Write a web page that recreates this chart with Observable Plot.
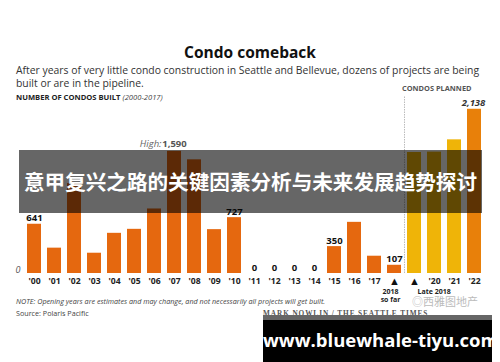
<!DOCTYPE html>
<html>
<head>
<meta charset="utf-8">
<script src="https://cdn.jsdelivr.net/npm/d3@7"></script>
<script src="https://cdn.jsdelivr.net/npm/@observablehq/plot@0.6"></script>
<style>
  html, body { margin: 0; padding: 0; background: #fff; }
  #wrap { position: relative; width: 500px; height: 362px; overflow: hidden; font-family: "Open Sans", "DejaVu Sans", sans-serif; }
  .abs { position: absolute; white-space: nowrap; }
  #chart { position: absolute; left: 0; top: 80px; }
</style>
</head>
<body>
<div id="wrap">
  <div class="abs" style="left:0;width:500px;top:41px;text-align:center;font-size:15.5px;font-weight:700;color:#111;">Condo comeback</div>
  <div class="abs" style="left:16px;top:64px;font-size:10.4px;line-height:12.5px;color:#333;">After years of very little condo construction in Seattle and Bellevue, dozens of projects are being<br>built or are in the pipeline.</div>
  <div class="abs" style="left:16px;top:92px;font-size:7.6px;font-weight:700;color:#222;">NUMBER OF CONDOS BUILT <span style="font-weight:400;font-style:italic;color:#444;">(2000-2017)</span></div>
  <div class="abs" style="left:402px;top:83px;font-size:7.4px;font-weight:700;color:#555;">CONDOS PLANNED</div>
  <div id="chart"></div>
  <div class="abs" style="left:16px;top:296px;font-size:7.2px;font-style:italic;color:#444;">NOTE: Opening years are estimates and may change, and not necessarily all projects will get built.</div>
  <div class="abs" style="left:16px;top:308px;font-size:7.2px;color:#444;">Source: Polaris Pacific</div>
  <div class="abs" style="left:263px;top:309px;font-size:7.3px;font-weight:700;font-family:'Liberation Serif',serif;letter-spacing:0.9px;color:#555;">MARK NOWLIN / THE SEATTLE TIMES</div>
  <div class="abs" style="left:412px;top:295px;font-size:11px;line-height:12px;color:#bbb;font-family:'Noto Sans CJK SC',sans-serif;">◎西雅图地产</div>
  <div class="abs" style="left:19px;top:150px;width:463px;height:63px;background:rgba(0,0,0,0.6);color:#fff;font-family:'Noto Sans CJK SC',sans-serif;font-weight:700;font-size:20.6px;line-height:63px;text-align:center;">意甲复兴之路的关键因素分析与未来发展趋势探讨</div>
  <div class="abs" style="left:263px;top:315px;width:229px;height:47px;background:#000;border-top:5px solid #666;box-sizing:border-box;color:#fff;font-weight:700;font-size:18.5px;line-height:40px;text-align:center;">www.bluewhale-tiyu.com</div>
</div>
<script>
const years = ["'00","'01","'02","'03","'04","'05","'06","'07","'08","'09","'10","'11","'12","'13","'14","'15","'16","'17","2018","Late 2018","'20","'21","'22"];
const values = [641,330,1170,264,523,575,840,1590,1480,571,727,0,0,0,0,350,666,225,107,1575,1580,1740,2138];
const groups = ["built","built","built","built","built","built","built","built","built","built","built","built","built","built","built","built","built","built","built","planned","planned","planned","peak"];
const groupNames = ["built","planned","peak"];
const groupColors = ["#e5680f","#efb408","#e8800a"];
const labeled = ["'00","'10","'11","'12","'13","'14","'15","2018"];
const markerYears = ["2018", "Late 2018"];
const subLabelsA = [{x: "2018", line1: "2018", line2: "so far"}];
const subLabelsB = [{x: "Late 2018", line1: "Late 2018"}];
const highYear = "'07";
const maxYear = "'22";

const data = years.map((y, i) => ({year: y, value: values[i], group: groups[i]}));
const colorOf = Object.fromEntries(groupNames.map((g, i) => [g, groupColors[i]]));

const chart = Plot.plot({
  width: 500,
  height: 220,
  marginLeft: 24,
  marginRight: 15,
  marginTop: 24,
  marginBottom: 27,
  style: {overflow: "visible", fontFamily: "'Open Sans', sans-serif", background: "transparent"},
  x: {domain: years, paddingInner: 0.28, paddingOuter: 0.14, label: null},
  y: {domain: [0, 2200], label: null},
  marks: [
    Plot.ruleX(["Late 2018"], {dx: -10, y1: 0, y2: 2300, stroke: "#bbb", strokeWidth: 1, strokeDasharray: "1.5,1"}),
    Plot.barY(data, {x: "year", y: "value", fill: d => colorOf[d.group]}),
    Plot.axisX({tickSize: 0, tickPadding: 4, fontSize: 8.6, fontWeight: 700, fill: "#222", tickFormat: d => markerYears.includes(d) ? "" : d}),
    Plot.text(markerYears, {x: d => d, y: () => 0, text: () => "▲", dy: 8, fontSize: 11, fill: "#111"}),
    Plot.axisY({ticks: [0], tickSize: 0, tickPadding: 4, fontSize: 9, fontStyle: "italic", fill: "#555", dy: -3}),
    Plot.text(data.filter(d => labeled.includes(d.year)), {x: "year", y: "value", text: d => d3.format(",")(d.value), dy: -6, fontSize: 9.5, fontWeight: 700, fill: "#111"}),
    Plot.text(data.filter(d => d.year === maxYear), {x: "year", y: "value", text: d => d3.format(",")(d.value), dy: -6, dx: -1, fontSize: 9.5, fontWeight: 700, fontStyle: "italic", fill: "#333"}),
    Plot.text(data.filter(d => d.year === highYear), {x: "year", y: "value", text: d => d3.format(",")(d.value), dy: -7, fontSize: 9.5, fontWeight: 700, fill: "#555"}),
    Plot.text(data.filter(d => d.year === highYear), {x: "year", y: "value", text: () => "High:", dy: -7, dx: -13, textAnchor: "end", fontSize: 9.5, fontStyle: "italic", fill: "#666"}),
    Plot.text(subLabelsA, {x: "x", y: () => 0, text: "line1", dy: 18, dx: -4, fontSize: 7, fontWeight: 700, fill: "#222"}),
    Plot.text(subLabelsA, {x: "x", y: () => 0, text: "line2", dy: 26, dx: -4, fontSize: 7, fontWeight: 700, fill: "#222"}),
    Plot.text(subLabelsB, {x: "x", y: () => 0, text: "line1", dy: 18, dx: 3, textAnchor: "start", fontSize: 7, fontWeight: 700, fill: "#222"})
  ]
});
document.getElementById("chart").appendChild(chart);
</script>
</body>
</html>
